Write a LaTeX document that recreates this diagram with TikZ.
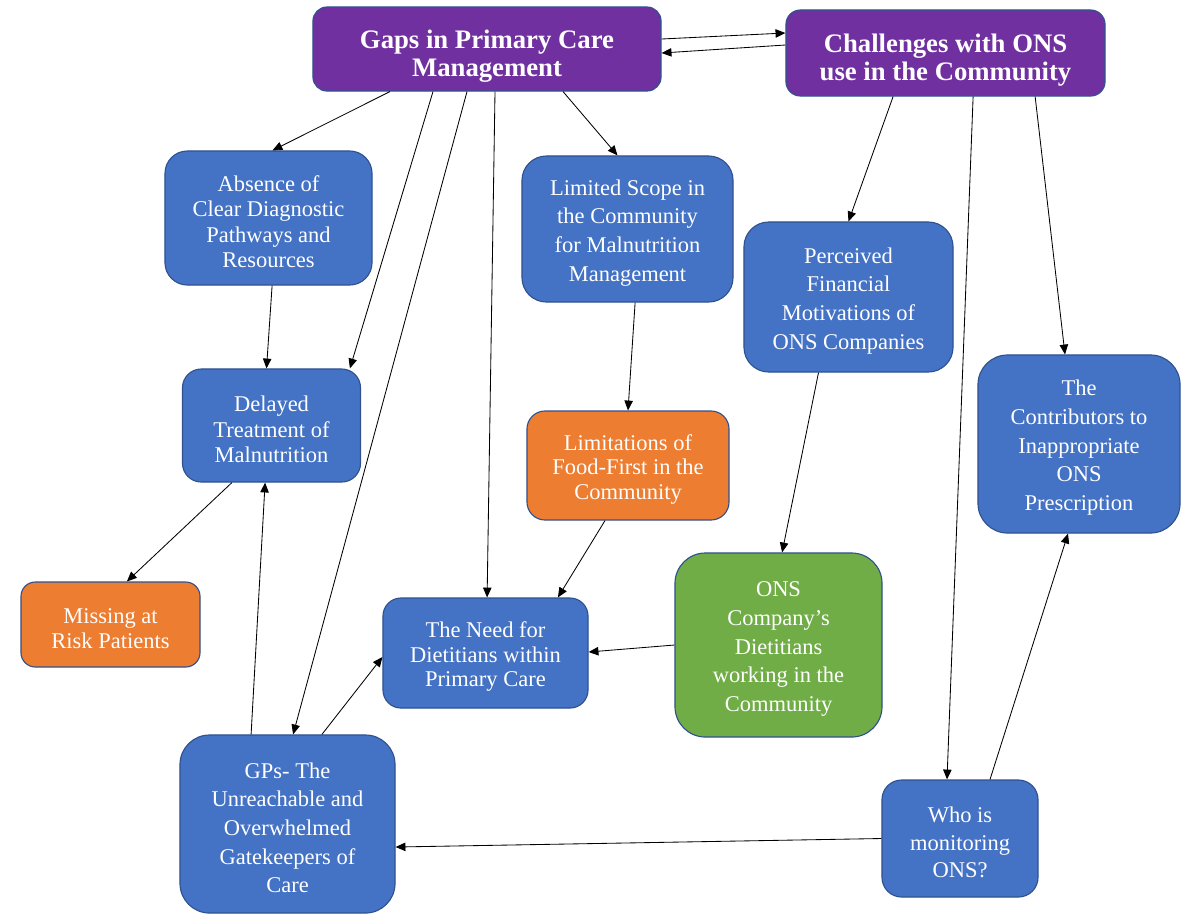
\documentclass[tikz,border=0pt]{standalone}
\usepackage{fontspec}
\setmainfont{Liberation Serif}
\usetikzlibrary{arrows.meta}

\definecolor{boxblue}{HTML}{4472C4}
\definecolor{edgeblue}{HTML}{2F528F}
\definecolor{boxorange}{HTML}{ED7D31}
\definecolor{boxgreen}{HTML}{70AD47}
\definecolor{boxpurple}{HTML}{7030A0}

\begin{document}
\begin{tikzpicture}[
  x=0.025cm, y=-0.025cm,
  >={Triangle[length=7pt,width=6pt]},
  box/.style={draw=edgeblue,line width=0.8pt,fill=boxblue,text=white,align=flush center,inner sep=2pt,
    font=\fontsize{16}{18.2}\selectfont,text width=4.4cm,text height=16.6pt},
  tight/.style={font=\fontsize{16}{17.4}\selectfont},
  loose/.style={font=\fontsize{16}{20.4}\selectfont},
  headbox/.style={box,fill=boxpurple,font=\bfseries\fontsize{19}{20}\selectfont,text width=7.5cm,text height=23pt},
  warnbox/.style={box,fill=boxorange},
  onsbox/.style={box,fill=boxgreen},
  link/.style={->,line width=0.6pt,black}
]
\useasboundingbox (0,0) rectangle (1187,917);

% The two main themes.
\node[headbox,minimum width=8.7cm,minimum height=2.1cm,rounded corners=0.35cm] (gaps) at (487,49) {Gaps in Primary Care\\Management};
\node[headbox,minimum width=7.975cm,minimum height=2.15cm,rounded corners=0.36cm] (chall) at (945.5,53) {Challenges with ONS\\use in the Community};
\draw[link] ([yshift=0.25cm]gaps.east) -- ([yshift=0.5cm]chall.west);
\draw[link] ([yshift=0.2cm]chall.west) -- ([yshift=-0.1cm]gaps.east);

% Sub-themes.
\node[box,minimum width=5.175cm,minimum height=3.35cm,rounded corners=0.56cm] (absence) at (268.5,218) {Absence of\\Clear Diagnostic\\Pathways and\\Resources};
\node[box,loose,minimum width=5.275cm,minimum height=3.65cm,rounded corners=0.61cm] (scope) at (627.5,229) {Limited Scope in\\the Community\\for Malnutrition\\Management};
\node[box,loose,minimum width=5.225cm,minimum height=3.75cm,rounded corners=0.62cm] (finance) at (848.5,297) {Perceived\\Financial\\Motivations of\\ONS Companies};
\node[box,text width=4.2cm,minimum width=4.45cm,minimum height=2.825cm,rounded corners=0.47cm] (delayed) at (271.5,425.5) {Delayed\\Treatment of\\Malnutrition};
\node[warnbox,tight,minimum width=5.05cm,minimum height=2.725cm,rounded corners=0.45cm] (foodfirst) at (628,465.5) {Limitations of\\Food-First in the\\Community};
\node[box,loose,minimum width=5.05cm,minimum height=4.45cm,rounded corners=0.74cm] (contrib) at (1079,444) {The\\Contributors to\\Inappropriate\\ONS\\Prescription};
\node[warnbox,text width=4.2cm,minimum width=4.475cm,minimum height=2.125cm,rounded corners=0.36cm] (missing) at (110.5,624.5) {Missing at\\Risk Patients};
\node[box,tight,minimum width=5.125cm,minimum height=2.75cm,rounded corners=0.45cm] (need) at (485.5,653) {The Need for\\Dietitians within\\Primary Care};
\node[onsbox,loose,minimum width=5.175cm,minimum height=4.6cm,rounded corners=0.76cm] (onsdiet) at (778.5,645) {ONS\\Company's\\Dietitians\\working in the\\Community};
\node[box,loose,minimum width=5.375cm,minimum height=4.45cm,rounded corners=0.74cm] (gps) at (287.5,824) {GPs- The\\Unreachable and\\Overwhelmed\\Gatekeepers of\\Care};
\node[box,font=\fontsize{16}{19.5}\selectfont,text width=3.6cm,minimum width=3.9cm,minimum height=2.925cm,rounded corners=0.49cm] (who) at (960,838.5) {Who is\\monitoring\\ONS?};

% Links out of the primary care theme.
\draw[link] ([xshift=-2.425cm]gaps.south) -- ([xshift=0.1cm]absence.north);
\draw[link] ([xshift=-1.35cm]gaps.south) -- ([xshift=1.96cm]delayed.north);
\draw[link] ([xshift=-0.5cm]gaps.south) -- ([xshift=0.14cm]gps.north);
\draw[link] ([xshift=0.2cm]gaps.south) -- ([xshift=0.04cm]need.north);
\draw[link] ([xshift=1.9cm]gaps.south) -- ([xshift=-0.25cm]scope.north);
\draw[link] ([xshift=0.09cm]absence.south) -- ([xshift=-0.125cm]delayed.north);
\draw[link] ([xshift=0.19cm]scope.south) -- (foodfirst.north);
\draw[link] ([xshift=-0.99cm]delayed.south) -- ([xshift=0.41cm]missing.north);
\draw[link] ([xshift=-0.575cm]foodfirst.south) -- ([xshift=1.81cm]need.north);
\draw[link] ([xshift=0.86cm]gps.north) -- ([yshift=-0.1cm]need.west);
\draw[link] ([xshift=-0.91cm]gps.north) -- ([xshift=-0.16cm]delayed.south);

% Links out of the ONS theme.
\draw[link] ([xshift=-1.31cm]chall.south) -- (finance.north);
\draw[link] ([xshift=0.69cm]chall.south) -- ([xshift=-0.325cm]who.north);
\draw[link] ([xshift=2.24cm]chall.south) -- ([xshift=-0.35cm]contrib.north);
\draw[link] ([xshift=-0.75cm]finance.south) -- ([xshift=0.09cm]onsdiet.north);
\draw[link] (onsdiet.west) -- ([yshift=0.025cm]need.east);
\draw[link] (who.west) -- ([yshift=-0.575cm]gps.east);
\draw[link] ([xshift=0.75cm]who.north) -- ([xshift=-0.275cm]contrib.south);
\end{tikzpicture}
\end{document}
